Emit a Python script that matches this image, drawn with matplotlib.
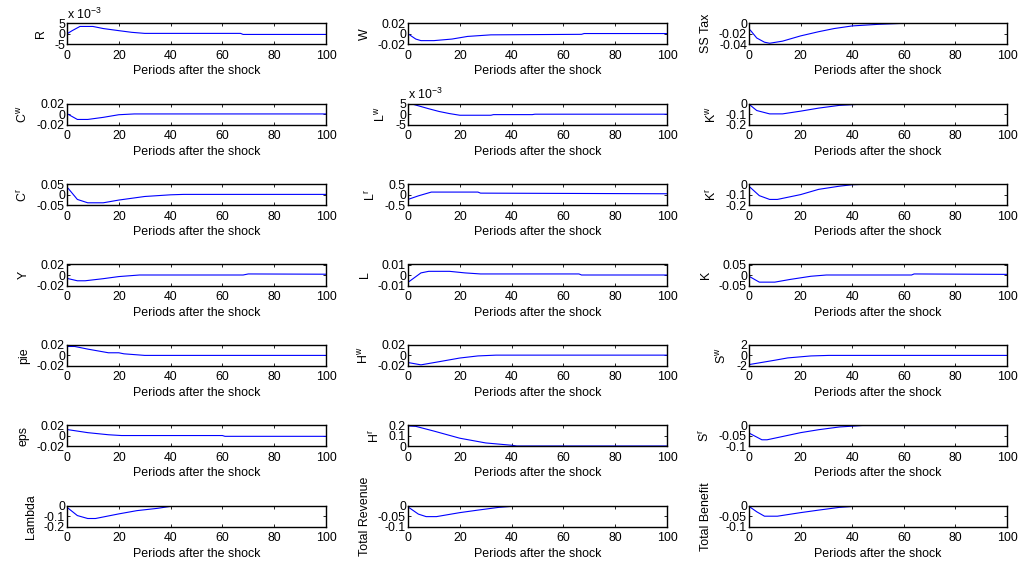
import matplotlib
matplotlib.use("Agg")
import matplotlib.pyplot as plt

plt.rcParams['font.family'] = ['Liberation Sans', 'DejaVu Sans']
plt.rcParams['mathtext.fontset'] = 'custom'
plt.rcParams['mathtext.rm'] = 'Liberation Sans'
plt.rcParams['mathtext.it'] = 'Liberation Sans'
plt.rcParams['axes.unicode_minus'] = False

xlabel_text = "Periods after the shock"
xticks = [0, 20, 40, 60, 80, 100]

# ---- data (period, value) ----
R_x = [0, 2, 5, 10, 14, 20, 25, 30, 67, 68, 100]
R_y = [0.0, 0.0015, 0.0035, 0.0035, 0.0025, 0.0015, 0.0007, 0.0002, 0.0002, -0.0003, -0.0003]

W_x = [0, 3, 5, 10, 17, 23, 32, 67, 68, 100]
W_y = [0.0, -0.010, -0.013, -0.013, -0.010, -0.005, -0.002, -0.001, 0.0005, 0.0005]

SS_x = [0.5, 3, 6, 8, 13, 20, 27, 33, 40, 50, 60, 100]
SS_y = [-0.013, -0.028, -0.036, -0.038, -0.034, -0.024, -0.016, -0.010, -0.005, -0.002, 0.0, 0.0]

Cw_x = [0, 4, 8, 14, 20, 26, 100]
Cw_y = [0.001, -0.010, -0.010, -0.006, -0.001, 0.0005, 0.0005]

Lw_x = [0, 2, 8, 12, 16, 20, 32, 33, 48, 49, 100]
Lw_y = [0.0047, 0.0047, 0.0026, 0.0013, 0.0003, -0.0005, -0.0005, -0.0002, -0.0002, 0.0, 0.0]

Kw_x = [0.5, 3, 8, 13, 20, 27, 35, 47, 100]
Kw_y = [-0.015, -0.065, -0.097, -0.097, -0.071, -0.042, -0.016, 0.0, 0.0]

Cr_x = [0.5, 4, 8, 14, 20, 30, 40, 45, 100]
Cr_y = [0.029, -0.023, -0.039, -0.039, -0.026, -0.009, -0.001, 0.001, 0.001]

Lr_x = [0, 4, 9, 27, 28, 100]
Lr_y = [-0.23, -0.06, 0.12, 0.12, 0.07, 0.04]

Kr_x = [0.5, 4, 8, 11, 20, 27, 35, 40, 47, 100]
Kr_y = [-0.032, -0.11, -0.146, -0.146, -0.10, -0.05, -0.02, -0.006, 0.0, 0.0]

Y_x = [0.5, 4, 7, 14, 20, 28, 68, 70, 100]
Y_y = [-0.007, -0.011, -0.011, -0.007, -0.003, 0.0, 0.0, 0.002, 0.0015]

L_x = [0, 5, 8, 16, 22, 28, 66, 67, 100]
L_y = [-0.007, 0.002, 0.0035, 0.0035, 0.002, 0.001, 0.001, 0.0, 0.0]

K_x = [0, 4, 10, 16, 24, 30, 63, 64, 100]
K_y = [-0.006, -0.034, -0.034, -0.021, -0.006, 0.0, 0.0, 0.005, 0.003]

pie_x = [0.5, 3, 8, 16, 20, 22, 30, 100]
pie_y = [0.017, 0.017, 0.012, 0.005, 0.005, 0.003, 0.0, 0.0]

Hw_x = [0.5, 5, 12, 20, 27, 34, 100]
Hw_y = [-0.014, -0.018, -0.012, -0.005, -0.001, 0.0005, 0.0005]

Sw_x = [0, 10, 15, 24, 31, 100]
Sw_y = [-1.75, -0.92, -0.48, -0.1, 0.0, 0.0]

eps_x = [0.5, 8, 16, 21, 60, 61, 100]
eps_y = [0.0116, 0.006, 0.002, 0.0005, 0.0005, -0.001, -0.001]

Hr_x = [0, 3, 10, 20, 30, 40, 42, 100]
Hr_y = [0.194, 0.19, 0.145, 0.077, 0.032, 0.01, 0.003, 0.003]

Sr_x = [0.5, 5, 7, 12, 20, 27, 35, 44, 100]
Sr_y = [-0.04, -0.069, -0.069, -0.056, -0.035, -0.021, -0.008, -0.001, -0.001]

Lam_x = [0.5, 4, 8, 11, 20, 27, 35, 40, 47, 100]
Lam_y = [-0.025, -0.094, -0.122, -0.122, -0.078, -0.047, -0.025, -0.006, 0.0, 0.0]

TR_x = [0.5, 4, 7, 11, 20, 27, 35, 40, 44, 100]
TR_y = [-0.01, -0.04, -0.052, -0.052, -0.033, -0.021, -0.008, -0.003, 0.0, 0.0]

TB_x = [0, 3, 6, 11, 20, 27, 35, 44, 100]
TB_y = [-0.003, -0.029, -0.05, -0.05, -0.033, -0.021, -0.008, 0.0, 0.0]

# (label, x, y, ylim, yticks, yticklabels, scale note)
panels = [
    (r"R", R_x, R_y, (-0.005, 0.005), [-0.005, 0, 0.005], ["-5", "0", "5"], True),
    (r"W", W_x, W_y, (-0.02, 0.02), [-0.02, 0, 0.02], ["-0.02", "0", "0.02"], False),
    (r"SS Tax", SS_x, SS_y, (-0.04, 0), [-0.04, -0.02, 0], ["-0.04", "-0.02", "0"], False),
    (r"C$^{w}$", Cw_x, Cw_y, (-0.02, 0.02), [-0.02, 0, 0.02], ["-0.02", "0", "0.02"], False),
    (r"L$^{w}$", Lw_x, Lw_y, (-0.005, 0.005), [-0.005, 0, 0.005], ["-5", "0", "5"], True),
    (r"K$^{w}$", Kw_x, Kw_y, (-0.2, 0), [-0.2, -0.1, 0], ["-0.2", "-0.1", "0"], False),
    (r"C$^{r}$", Cr_x, Cr_y, (-0.05, 0.05), [-0.05, 0, 0.05], ["-0.05", "0", "0.05"], False),
    (r"L$^{r}$", Lr_x, Lr_y, (-0.5, 0.5), [-0.5, 0, 0.5], ["-0.5", "0", "0.5"], False),
    (r"K$^{r}$", Kr_x, Kr_y, (-0.2, 0), [-0.2, -0.1, 0], ["-0.2", "-0.1", "0"], False),
    (r"Y", Y_x, Y_y, (-0.02, 0.02), [-0.02, 0, 0.02], ["-0.02", "0", "0.02"], False),
    (r"L", L_x, L_y, (-0.01, 0.01), [-0.01, 0, 0.01], ["-0.01", "0", "0.01"], False),
    (r"K", K_x, K_y, (-0.05, 0.05), [-0.05, 0, 0.05], ["-0.05", "0", "0.05"], False),
    (r"pie", pie_x, pie_y, (-0.02, 0.02), [-0.02, 0, 0.02], ["-0.02", "0", "0.02"], False),
    (r"H$^{w}$", Hw_x, Hw_y, (-0.02, 0.02), [-0.02, 0, 0.02], ["-0.02", "0", "0.02"], False),
    (r"S$^{w}$", Sw_x, Sw_y, (-2, 2), [-2, 0, 2], ["-2", "0", "2"], False),
    (r"eps", eps_x, eps_y, (-0.02, 0.02), [-0.02, 0, 0.02], ["-0.02", "0", "0.02"], False),
    (r"H$^{r}$", Hr_x, Hr_y, (0, 0.2), [0, 0.1, 0.2], ["0", "0.1", "0.2"], False),
    (r"S$^{r}$", Sr_x, Sr_y, (-0.1, 0), [-0.1, -0.05, 0], ["-0.1", "-0.05", "0"], False),
    (r"Lambda", Lam_x, Lam_y, (-0.2, 0), [-0.2, -0.1, 0], ["-0.2", "-0.1", "0"], False),
    (r"Total Revenue", TR_x, TR_y, (-0.1, 0), [-0.1, -0.05, 0], ["-0.1", "-0.05", "0"], False),
    (r"Total Benefit", TB_x, TB_y, (-0.1, 0), [-0.1, -0.05, 0], ["-0.1", "-0.05", "0"], False),
]

W_PX, H_PX = 1034, 567
fig = plt.figure(figsize=(W_PX / 100, H_PX / 100), dpi=100)

col_left = [67, 408, 749]
col_width = [259, 259, 258]
row_top0, row_step, ax_h = 23.3, 80.4, 21

fs = 8.9
for i, (lab, xs, ys, yl, yt, ytl, note) in enumerate(panels):
    r, c = divmod(i, 3)
    top = row_top0 + r * row_step
    ax = fig.add_axes([col_left[c] / W_PX, 1 - (top + ax_h) / H_PX,
                       col_width[c] / W_PX, ax_h / H_PX])
    ax.plot(xs, ys, color=(0, 0, 1), lw=0.8)
    ax.set_xlim(0, 100)
    ax.set_ylim(*yl)
    ax.set_xticks(xticks)
    ax.set_xticklabels([str(v) for v in xticks])
    ax.set_yticks(yt)
    ax.set_yticklabels(ytl)
    ax.tick_params(direction='in', top=True, right=True, length=2.5, width=0.6,
                   labelsize=fs, pad=1.5)
    ax.tick_params(axis='x', pad=4)
    for s in ax.spines.values():
        s.set_linewidth(1.0)
    ax.set_xlabel(xlabel_text, fontsize=fs, labelpad=2.5)
    ax.set_ylabel(lab, fontsize=fs, labelpad=5)
    if note:
        ax.text(0, 1.08, r"x 10$^{-3}$", transform=ax.transAxes, fontsize=fs,
                ha='left', va='bottom')

fig.savefig("out.png", dpi=100)
